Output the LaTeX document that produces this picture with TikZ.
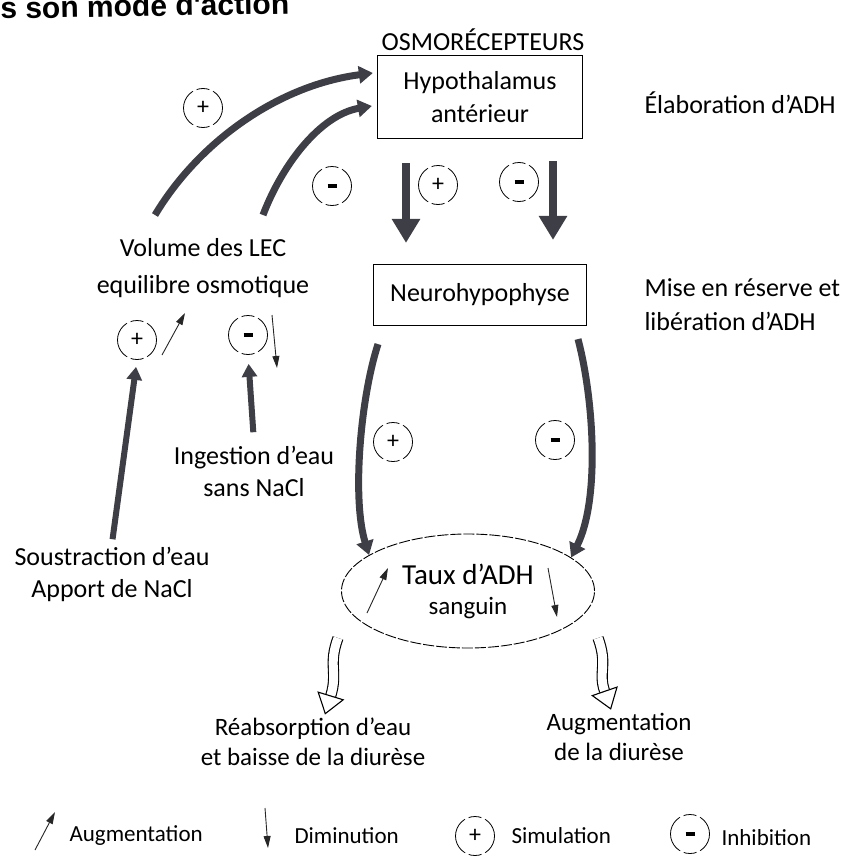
\documentclass[tikz,border=0pt]{standalone}
\usepackage{fontspec}
\setmainfont{Carlito}
\newfontfamily\headfont{Liberation Sans}
\usepackage{tikz}
\usetikzlibrary{arrows.meta,calc,shapes.geometric}
\definecolor{clrArrow}{RGB}{62,62,70}
\tikzset{
  txt/.style={font=\fontsize{26}{34}\selectfont,align=center},
  outtxt/.style={font=\fontsize{25}{30}\selectfont,align=center},
  legtxt/.style={font=\fontsize{23}{26}\selectfont,anchor=west},
  headtxt/.style={font=\headfont\bfseries\fontsize{30}{34}\selectfont},
  boxed/.style={rectangle,draw,line width=1.2pt,font=\fontsize{26}{33}\selectfont,
    align=center,inner sep=4pt},
  oval/.style={ellipse,draw,line width=0.9pt,dash pattern=on 11pt off 2pt,
    minimum width=253pt,minimum height=114pt,inner sep=0pt,align=center,
    font=\fontsize{29}{34}\selectfont},
  sign/.style={circle,draw,line width=0.8pt,
    dash pattern=on 13pt off 4pt on 40.3pt off 4pt,dash phase=37.2pt,
    minimum size=39pt,inner sep=0pt,font=\fontsize{24}{24}\selectfont},
  minussign/.style={sign,path picture={
    \draw[line width=3.5pt,solid] ([xshift=-4.5pt]path picture bounding box.center)
      -- ([xshift=4.5pt]path picture bounding box.center);}},
  bigdown/.style={line width=8pt,draw=clrArrow,
    -{Triangle[length=24pt,width=27pt]}},
  curvy/.style={line width=7pt,draw=clrArrow,
    -{Triangle[length=14pt,width=17pt]}},
  riser/.style={line width=6pt,draw=clrArrow,
    -{Triangle[length=13pt,width=15pt]}},
  smallarrow/.style={line width=0.9pt,draw=black!85,
    -{Triangle[length=12pt,width=7pt]}},
  hollowarrow/.style={draw,line width=1.1pt,double=white,double distance=9pt,
    -{Triangle[open,length=20pt,width=28pt]}}
}

\begin{document}
\begin{tikzpicture}[x=1pt,y=-1pt]
  \useasboundingbox (0,0) rectangle (860,867);

  % cut line of the page above
  \node[headtxt,anchor=base west,rotate=1] (head) at (-3,19) {s son mode d'action};

  \node[txt] (osmo) at (483,40) {OSMORÉCEPTEURS};
  \node[boxed,minimum width=205pt,minimum height=83pt] (hypo) at (480,97)
    {Hypothalamus\\antérieur};
  \node[txt,anchor=west] (elab) at (641,103) {Élaboration d'ADH};
  \node[boxed,minimum width=213pt,minimum height=61pt] (neuro) at (480,295)
    {Neurohypophyse};
  \node[txt,anchor=west,align=left] (mise) at (641,305)
    {Mise en réserve et\\libération d'ADH};

  \node[txt,font=\fontsize{26}{37}\selectfont] (volume) at (203,268)
    {Volume des LEC\\equilibre osmotique};
  \node[txt,font=\fontsize{26}{32}\selectfont] (ingest) at (254,471)
    {Ingestion d'eau\\sans NaCl};
  \node[txt,font=\fontsize{26}{32}\selectfont] (sous) at (112,574)
    {Soustraction d'eau\\Apport de NaCl};

  \node[sign] (plusC) at (203,108) {+};
  \node[minussign] (minusC) at (332,186) {};
  \node[sign] (plusB) at (438,185) {+};
  \node[minussign] (minusB) at (519,182) {};
  \node[sign] (plusA) at (137,340) {+};
  \node[minussign] (minusA) at (248,335) {};
  \node[sign] (plusD) at (393,442) {+};
  \node[minussign] (minusD) at (555,440) {};

  \node[oval] (taux) at (468,591)
    {Taux d'ADH\\[-4pt]{\fontsize{25}{28}\selectfont sanguin}};

  \node[outtxt] (reab) at (313,742) {Réabsorption d'eau\\et baisse de la diurèse};
  \node[outtxt] (aug) at (619,737) {Augmentation\\de la diurèse};

  % legend
  \node[legtxt] (legup) at (66,836) {Augmentation};
  \node[legtxt] (legdown) at (291,836) {Diminution};
  \node[sign] (legplus) at (475,836) {+};
  \node[legtxt] (legstim) at (508,836) {Simulation};
  \node[minussign] (legminus) at (690,834) {};
  \node[legtxt] (leginh) at (718,838) {Inhibition};

  \coordinate (volA) at (155,215);
  \coordinate (volB) at (263,215);
  \coordinate (tauxL) at (338,638);
  \coordinate (tauxR) at (598,638);

  \draw[curvy] (volA) .. controls (200,140) and (280,85) .. ($(hypo.west)+(-4,-24)$);
  \draw[curvy] (volB) .. controls (282,165) and (320,115) .. ($(hypo.west)+(-5,9)$);

  \draw[bigdown] ($(hypo.south)+(-74,24)$) -- ($(neuro.north)+(-74,-21)$);
  \draw[bigdown] ($(hypo.south)+(73,22)$) -- ($(neuro.north)+(73,-24)$);

  \draw[curvy] ($(neuro.south)+(-102,18)$) .. controls (360,400) and (352,500) .. (taux.160);
  \draw[curvy] ($(neuro.south)+(98,13)$) .. controls (594,400) and (600,500) .. (taux.18);

  \draw[riser,shorten <=4pt,shorten >=7pt] (sous.north) -- (plusA.south);
  \draw[riser,shorten <=10pt,shorten >=9pt] (ingest.north) -- (minusA.south);

  \draw[smallarrow] ($(plusA)+(25,15)$) -- ++(23,-42);
  \draw[smallarrow] ($(minusA)+(24,-20)$) -- ++(5,53);
  \draw[smallarrow] ($(taux)+(-101,22)$) -- ++(21,-45);
  \draw[smallarrow] ($(taux)+(80,-23)$) -- ++(9,49);

  \draw[hollowarrow] (tauxL) .. controls (328,665) and (338,672) .. ([xshift=12pt]reab.north);
  \draw[hollowarrow] (tauxR) .. controls (608,665) and (598,672) .. ([xshift=-8pt]aug.north);

  \draw[smallarrow] ($(legup.west)+(-31,14)$) -- ++(20,-38);
  \draw[smallarrow] ($(legdown.west)+(-26,-28)$) -- ++(3,40);
\end{tikzpicture}
\end{document}
